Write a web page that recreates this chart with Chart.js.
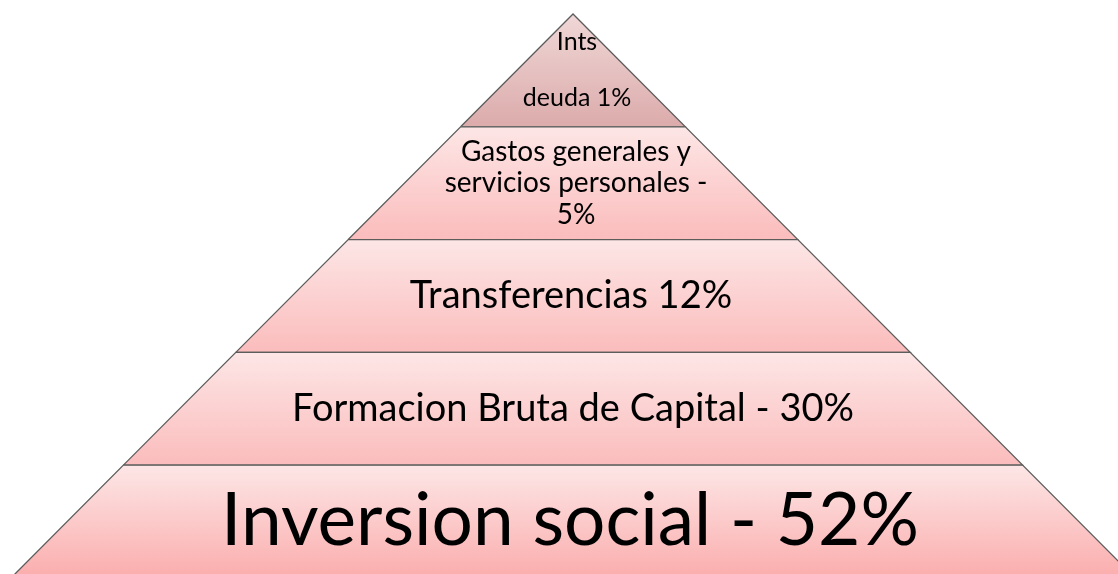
<!DOCTYPE html>
<html>
<head>
<meta charset="utf-8">
<script src="https://cdn.jsdelivr.net/npm/chart.js@4.4.1/dist/chart.umd.min.js"></script>
<style>
    html, body { margin: 0; padding: 0; background: #ffffff; }
    #wrap { width: 1118px; height: 574px; }
</style>
</head>
<body>
<div id="wrap"><canvas id="pyramid-chart"></canvas></div>
<script>
// Pyramid layers, bottom to top
const categories = ['Inversion social', 'Formacion Bruta de Capital', 'Transferencias',
    'Gastos generales y servicios personales', 'Ints deuda'];
const shares = [52, 30, 12, 5, 1];
// Text shown in each layer (one entry per line)
const layerLabels = [
    ['Inversion social - 52%'],
    ['Formacion Bruta de Capital - 30%'],
    ['Transferencias 12%'],
    ['Gastos generales y', 'servicios personales -', '5%'],
    ['Ints', '', 'deuda 1%']
];

// Styling
const fontSizes = [73, 38, 38, 28, 25];
const lineHeights = [72, 40, 40, 31.5, 28];
const textShift = [-3, 0, -2, 3, 4];   // small horizontal nudges of the texts, px
const gradTop = ['#fde6e6', '#fde6e6', '#fde6e6', '#fde6e6', '#f0d7d7'];
const gradBottom = ['#fbadad', '#fbbcbc', '#fbbcbc', '#fbbcbc', '#dcabab'];

const levels = categories.length;
const baseHalf = 562;   // half width of the base, in x units

function halfWidth(level) {
    return baseHalf * (levels - level) / levels;
}

// Build one closed outline per layer from its level index
const datasets = categories.map((name, i) => {
    const pts = [
        { x: -halfWidth(i), y: i },
        { x: -halfWidth(i + 1), y: i + 1 },
        { x: halfWidth(i + 1), y: i + 1 },
        { x: halfWidth(i), y: i },
        { x: -halfWidth(i), y: i }
    ];
    return {
        label: name + ' ' + shares[i] + '%',
        data: pts,
        showLine: true,
        fill: 'shape',
        pointRadius: 0,
        borderColor: '#5c5c5c',
        borderWidth: 1.3,
        tension: 0,
        backgroundColor: function(context) {
            const chart = context.chart;
            const yScale = chart.scales.y;
            if (!chart.chartArea || !yScale) return gradTop[i];
            const top = yScale.getPixelForValue(i + 1);
            const bottom = yScale.getPixelForValue(i);
            const g = chart.ctx.createLinearGradient(0, top, 0, bottom);
            g.addColorStop(0, gradTop[i]);
            g.addColorStop(1, gradBottom[i]);
            return g;
        }
    };
});

// Draws the layer texts in the middle of each band
const layerText = {
    id: 'layerText',
    afterDatasetsDraw(chart) {
        const ctx = chart.ctx;
        const x = chart.scales.x.getPixelForValue(0);
        ctx.save();
        ctx.fillStyle = '#000000';
        ctx.textAlign = 'center';
        ctx.textBaseline = 'middle';
        layerLabels.forEach((lines, i) => {
            const mid = chart.scales.y.getPixelForValue(i + 0.5);
            ctx.font = fontSizes[i] + 'px Lato, "Open Sans", sans-serif';
            const start = mid - (lines.length - 1) * lineHeights[i] / 2;
            lines.forEach((line, k) => {
                ctx.fillText(line, x + textShift[i], start + k * lineHeights[i]);
            });
        });
        ctx.restore();
    }
};

new Chart(document.getElementById('pyramid-chart'), {
    type: 'scatter',
    data: { datasets: datasets },
    options: {
        responsive: true,
        maintainAspectRatio: false,
        animation: false,
        layout: { padding: 0 },
        plugins: {
            legend: { display: false },
            tooltip: { enabled: false }
        },
        scales: {
            x: { type: 'linear', min: -573, max: 545, display: false },
            y: { type: 'linear', min: 0.035, max: 5.124, display: false }
        }
    },
    plugins: [layerText]
});
</script>
</body>
</html>
